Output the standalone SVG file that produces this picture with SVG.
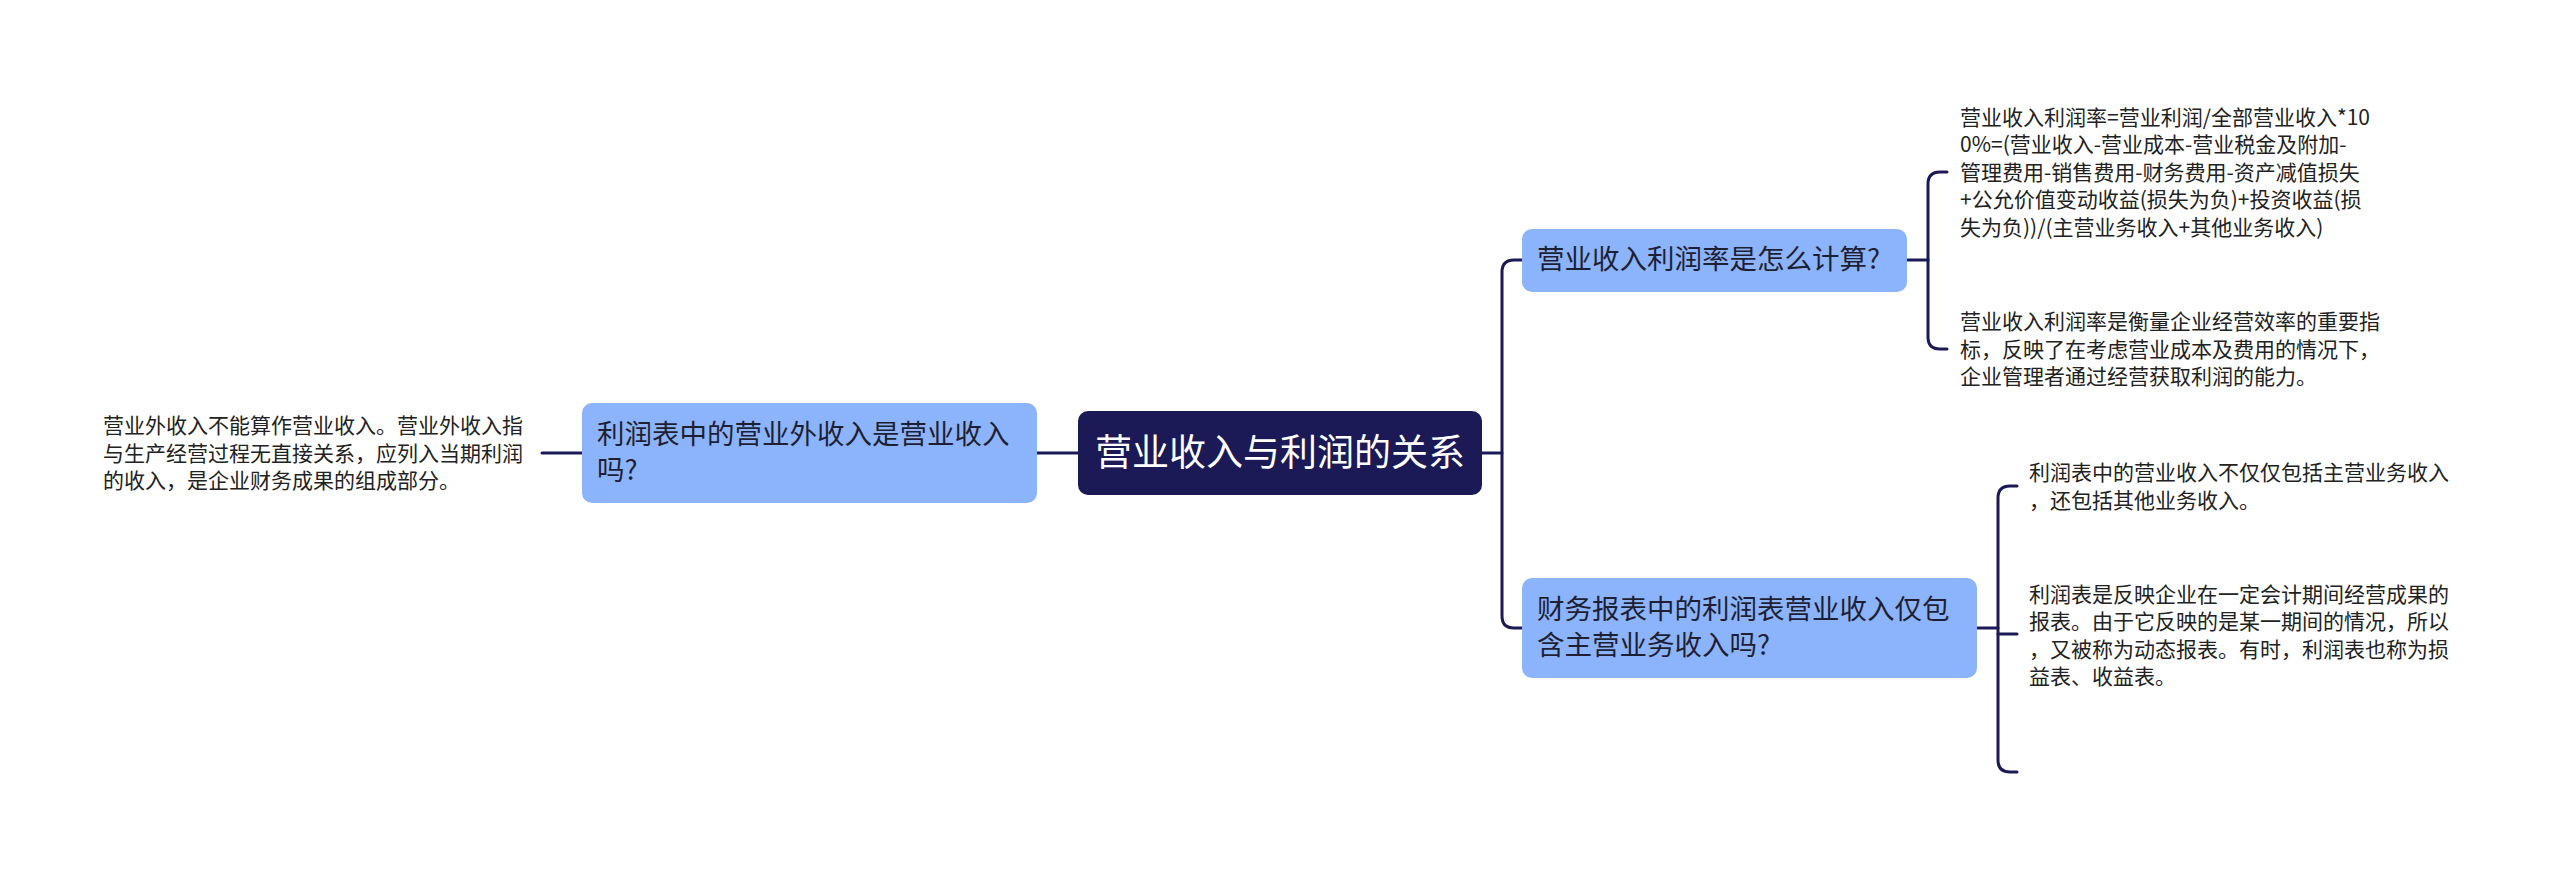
<svg xmlns="http://www.w3.org/2000/svg" width="2560" height="888" viewBox="0 0 2560 888">
<style>
.cn{fill:none;stroke:#1b1a57;stroke-width:3;stroke-linecap:round;stroke-linejoin:round}
.root{fill:#1b1a57}
.node{fill:#8cb4fc}
.t{font-family:"Noto Sans CJK SC","Noto Sans",sans-serif}
.rt{font-size:37px;fill:#ffffff}
.nt{font-size:27.5px;fill:#1f1f33}
.lt{font-size:21px;fill:#222222}
</style>
<rect width="2560" height="888" fill="#ffffff"/>
<g id="connectors">
<path class="cn" d="M542,453 H582"/>
<path class="cn" d="M1037,453 H1078"/>
<path class="cn" d="M1482,453 H1502"/>
<path class="cn" d="M1522,260 H1514 Q1502,260 1502,272 V616 Q1502,628 1514,628 H1522"/>
<path class="cn" d="M1907,260 H1928"/>
<path class="cn" d="M1947,172 H1940 Q1928,172 1928,184 V337 Q1928,349 1940,349 H1947"/>
<path class="cn" d="M1977,628 H1998"/>
<path class="cn" d="M2017,486 H2010 Q1998,486 1998,498 V760 Q1998,772 2010,772 H2017"/>
<path class="cn" d="M1998,634 H2017"/>
</g>
<g id="root">
<rect class="root" x="1078" y="411" width="404" height="84" rx="10"/>
<text class="t rt" x="1280" y="466" text-anchor="middle">营业收入与利润的关系</text>
</g>
<g id="left-node">
<rect class="node" x="582" y="403" width="455" height="100" rx="10"/>
<text class="t nt"><tspan x="597" y="444">利润表中的营业外收入是营业收入</tspan><tspan x="597" y="480">吗?</tspan></text>
</g>
<g id="left-leaf">
<text class="t lt"><tspan x="103" y="433">营业外收入不能算作营业收入。营业外收入指</tspan><tspan x="103" y="460.5">与生产经营过程无直接关系，应列入当期利润</tspan><tspan x="103" y="488">的收入，是企业财务成果的组成部分。</tspan></text>
</g>
<g id="node-a">
<rect class="node" x="1522" y="229" width="385" height="63" rx="10"/>
<text class="t nt" x="1537" y="269">营业收入利润率是怎么计算?</text>
</g>
<g id="leaf-a1">
<text class="t lt"><tspan x="1960" y="124.5">营业收入利润率=营业利润/全部营业收入*10</tspan><tspan x="1960" y="152">0%=(营业收入-营业成本-营业税金及附加-</tspan><tspan x="1960" y="179.5">管理费用-销售费用-财务费用-资产减值损失</tspan><tspan x="1960" y="207">+公允价值变动收益(损失为负)+投资收益(损</tspan><tspan x="1960" y="234.5">失为负))/(主营业务收入+其他业务收入)</tspan></text>
</g>
<g id="leaf-a2">
<text class="t lt"><tspan x="1960" y="329">营业收入利润率是衡量企业经营效率的重要指</tspan><tspan x="1960" y="356.5">标，反映了在考虑营业成本及费用的情况下，</tspan><tspan x="1960" y="384">企业管理者通过经营获取利润的能力。</tspan></text>
</g>
<g id="node-b">
<rect class="node" x="1522" y="578" width="455" height="100" rx="10"/>
<text class="t nt"><tspan x="1537" y="619">财务报表中的利润表营业收入仅包</tspan><tspan x="1537" y="655">含主营业务收入吗?</tspan></text>
</g>
<g id="leaf-b1">
<text class="t lt"><tspan x="2029" y="480">利润表中的营业收入不仅仅包括主营业务收入</tspan><tspan x="2029" y="507.5">，还包括其他业务收入。</tspan></text>
</g>
<g id="leaf-b2">
<text class="t lt"><tspan x="2029" y="601.5">利润表是反映企业在一定会计期间经营成果的</tspan><tspan x="2029" y="629">报表。由于它反映的是某一期间的情况，所以</tspan><tspan x="2029" y="656.5">，又被称为动态报表。有时，利润表也称为损</tspan><tspan x="2029" y="684">益表、收益表。</tspan></text>
</g>
</svg>
